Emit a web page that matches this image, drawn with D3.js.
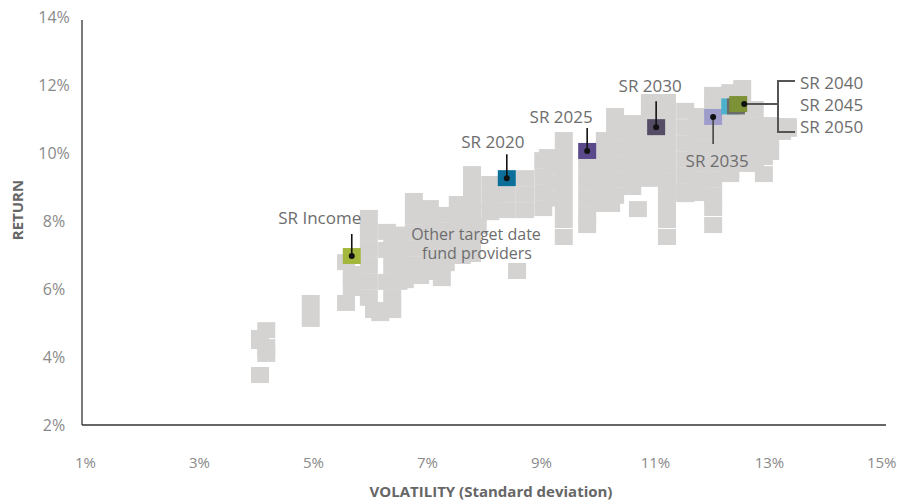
<!DOCTYPE html>
<html>
<head>
<meta charset="utf-8">
<script src="https://cdn.jsdelivr.net/npm/d3@7"></script>
<style>
  body { margin: 0; background: #fff; }
  text { font-family: "Open Sans", sans-serif; }
</style>
</head>
<body>
<div id="chart"></div>
<script>
var width = 897, height = 504;

// other target date fund providers (volatility %, return %)
var otherVol = [
  4.07, 4.07, 4.07, 4.18, 4.18, 4.18, 4.96, 4.96,
  5.58, 5.68, 5.68, 5.58, 5.98, 5.98, 5.98, 5.98, 5.98, 5.98, 6.07, 6.18,
  6.30, 6.39, 6.30, 6.39, 6.30, 6.39, 6.39,
  6.50, 6.50, 6.50, 6.50,
  6.77, 7.05, 7.33, 7.54, 7.79, 7.79, 6.77, 6.77, 6.77, 6.77, 7.05, 7.05, 7.05, 7.05,
  7.26, 7.33, 7.33, 7.33, 7.58, 7.58, 7.58, 7.61, 6.61, 6.88, 8.58,
  7.79, 7.79, 7.79, 7.79, 8.11, 8.11, 8.11, 7.89, 8.40, 8.40, 8.72, 8.72, 8.72,
  9.04, 9.04, 9.04, 9.04, 9.12, 9.20, 9.20, 9.20,
  9.40, 9.40, 9.40, 9.40, 9.40, 9.40, 9.40,
  9.81, 9.81, 9.81, 9.81, 9.81,
  10.12, 10.12, 10.12, 10.12, 10.12,
  10.30, 10.30, 10.30, 10.30, 10.30, 10.30, 10.23,
  10.60, 10.60, 10.60, 10.60, 10.60, 10.70,
  10.91, 10.91, 10.91, 10.91, 10.91, 10.91,
  11.21, 11.21, 11.21, 11.21, 11.21, 11.21, 11.21, 11.21, 11.21, 11.21,
  11.53, 11.53, 11.53, 11.53, 11.53, 11.53, 11.53,
  11.74, 11.74, 11.74, 11.74, 11.74, 11.74,
  12.02, 12.02, 12.02, 12.02, 12.02, 12.02, 12.02, 12.02, 12.02,
  12.32, 12.32, 12.32, 12.32, 12.32, 12.32,
  12.53, 12.53, 12.53, 12.53, 12.53, 12.53,
  12.75, 12.75, 12.75, 12.75, 12.75,
  12.91, 12.91, 12.91, 12.91,
  13.02, 13.02, 13.02,
  13.23, 13.23, 13.33, 13.33
];
var otherRet = [
  3.47, 4.56, 4.47, 4.79, 4.29, 4.09, 5.59, 5.12,
  6.79, 6.44, 6.03, 5.59, 8.09, 7.62, 7.15, 6.68, 6.21, 5.74, 5.38, 5.29,
  7.68, 7.59, 7.15, 6.68, 6.21, 5.74, 5.38,
  7.60, 7.15, 6.68, 6.21,
  8.59, 8.38, 8.18, 8.50, 9.38, 8.91, 8.12, 7.65, 7.18, 6.71, 7.91, 7.44, 6.97, 6.50,
  6.32, 7.71, 7.24, 6.76, 8.03, 7.56, 7.09, 6.97, 6.26, 6.38, 6.53,
  8.44, 7.97, 7.50, 7.03, 9.09, 8.62, 8.26, 7.85, 8.79, 8.32, 9.26, 8.79, 8.32,
  9.79, 9.32, 8.85, 8.38, 9.88, 9.60, 9.13, 8.66,
  10.38, 9.91, 9.44, 8.97, 8.50, 8.03, 7.53,
  9.59, 9.12, 8.65, 8.18, 7.88,
  10.38, 9.91, 9.44, 8.97, 8.50,
  11.09, 10.62, 10.15, 9.68, 9.21, 8.74, 8.50,
  10.88, 10.41, 9.94, 9.47, 9.00, 8.35,
  11.50, 11.03, 10.56, 10.09, 9.62, 9.24,
  11.50, 11.03, 10.56, 10.09, 9.62, 9.15, 8.82, 8.41, 8.03, 7.53,
  11.24, 10.76, 10.29, 9.82, 9.35, 8.88, 8.79,
  11.09, 10.62, 10.15, 9.68, 9.21, 8.82,
  11.71, 11.53, 10.62, 10.15, 9.68, 9.21, 8.74, 8.38, 7.88,
  11.79, 10.91, 10.44, 9.97, 9.50, 9.38,
  11.91, 11.44, 10.97, 10.50, 10.03, 9.68,
  11.29, 10.82, 10.35, 9.88, 9.68,
  10.82, 10.35, 9.88, 9.38,
  10.82, 10.35, 10.03,
  10.79, 10.62, 10.79, 10.71
];

// SmartRetirement funds, drawn in this order (2050 under 2045 under 2040)
var srNames = ["SR Income", "SR 2020", "SR 2025", "SR 2030", "SR 2035", "SR 2050", "SR 2045", "SR 2040"];
var srVol = [5.68, 8.40, 9.81, 11.02, 12.02, 12.32, 12.42, 12.46];
var srRet = [6.97, 9.26, 10.06, 10.76, 11.06, 11.37, 11.37, 11.44];
var srColors = ["#a4b73d", "#0b6f9a", "#5b4a8b", "#544d65", "#9e9ccb", "#4cb1cc", "#6b6b6b", "#7d9136"];

var groupNames = ["SR 2040", "SR 2045", "SR 2050"];

var xTicks = [1, 3, 5, 7, 9, 11, 13, 15];
var yTicks = [2, 4, 6, 8, 10, 12, 14];

var x = d3.scaleLinear().domain([1, 15]).range([85, 883]);
var y = d3.scaleLinear().domain([2, 14]).range([425, 17]);

var svg = d3.select("#chart")
    .append("svg")
    .attr("width", width)
    .attr("height", height);

var sqW = 18, sqH = 16;
var labelColor = "#6d6d6d";

// gray squares
svg.append("g")
    .selectAll("rect")
    .data(otherVol)
    .enter()
    .append("rect")
    .attr("x", function (d) { return x(d) - sqW / 2; })
    .attr("y", function (d, i) { return y(otherRet[i]) - sqH / 2; })
    .attr("width", sqW)
    .attr("height", sqH)
    .style("fill", "#d4d3d2");

// axes
var yAxis = d3.axisLeft(y).tickValues(yTicks).tickSize(0).tickFormat(function (d) { return d + "%"; });
var gy = svg.append("g").attr("transform", "translate(82,0)").call(yAxis);
gy.select(".domain").remove();
gy.selectAll("text")
    .attr("x", -28)
    .attr("text-anchor", "middle")
    .style("font-size", "16px")
    .style("fill", "#8a8a8a");

var xAxis = d3.axisBottom(x).tickValues(xTicks).tickSize(0).tickFormat(function (d) { return d + "%"; });
var gx = svg.append("g").attr("transform", "translate(0,425)").call(xAxis);
gx.select(".domain").remove();
gx.selectAll("text")
    .attr("y", 43)
    .attr("dy", 0)
    .style("font-size", "15px")
    .style("fill", "#8a8a8a");
// last label would run off the right edge
gx.selectAll("text")
    .filter(function (d) { return d === 15; })
    .attr("x", 13)
    .attr("text-anchor", "end");

svg.append("line")
    .attr("x1", 82).attr("x2", 82)
    .attr("y1", y(14) + 3).attr("y2", y(2))
    .style("stroke", "#333").style("stroke-width", 1.3);
svg.append("line")
    .attr("x1", 82).attr("x2", 886)
    .attr("y1", y(2)).attr("y2", y(2))
    .style("stroke", "#333").style("stroke-width", 1.3);

svg.append("text")
    .attr("transform", "translate(23,210) rotate(-90)")
    .attr("text-anchor", "middle")
    .style("font-size", "15px")
    .style("font-weight", "bold")
    .style("fill", "#666")
    .text("RETURN");

svg.append("text")
    .attr("x", 491)
    .attr("y", 497)
    .attr("text-anchor", "middle")
    .style("font-size", "15px")
    .style("font-weight", "bold")
    .style("fill", "#666")
    .text("VOLATILITY (Standard deviation)");

// provider label
svg.append("text")
    .attr("x", 476).attr("y", 240)
    .attr("text-anchor", "middle")
    .style("font-size", "16px")
    .style("fill", labelColor)
    .text("Other target date");
svg.append("text")
    .attr("x", 477).attr("y", 259)
    .attr("text-anchor", "middle")
    .style("font-size", "16px")
    .style("fill", labelColor)
    .text("fund providers");

// SR squares
svg.append("g")
    .selectAll("rect")
    .data(srNames)
    .enter()
    .append("rect")
    .attr("x", function (d, i) { return x(srVol[i]) - sqW / 2; })
    .attr("y", function (d, i) { return y(srRet[i]) - sqH / 2; })
    .attr("width", sqW)
    .attr("height", sqH)
    .style("fill", function (d, i) { return srColors[i]; });

// callouts for the single funds: label offset and leader end
var callouts = [
  { i: 0, dx: -32, dy: -32, lead: -22 },
  { i: 1, dx: -14, dy: -30, lead: -24 },
  { i: 2, dx: -26, dy: -28, lead: -23 },
  { i: 3, dx: -6, dy: -35, lead: -26 },
  { i: 4, dx: 4, dy: 50, lead: 27 }
];

callouts.forEach(function (c) {
  var px = x(srVol[c.i]), py = y(srRet[c.i]);
  svg.append("line")
      .attr("x1", px).attr("x2", px)
      .attr("y1", py).attr("y2", py + c.lead)
      .style("stroke", c.lead > 0 ? "#444" : "#111")
      .style("stroke-width", 1.6);
  svg.append("circle")
      .attr("cx", px).attr("cy", py).attr("r", 3)
      .style("fill", "#111");
  svg.append("text")
      .attr("x", px + c.dx).attr("y", py + c.dy)
      .attr("text-anchor", "middle")
      .style("font-size", "17px")
      .style("fill", labelColor)
      .text(srNames[c.i]);
});

// bracket for 2040 / 2045 / 2050
var gx0 = x(srVol[7]) + 6, gy0 = y(srRet[7]);
var bx = 778, bTop = 81, bBot = 132;
svg.append("path")
    .attr("d", "M" + gx0 + "," + gy0 + "H" + bx +
               "M" + 795 + "," + bTop + "H" + bx + "V" + bBot + "H" + 795)
    .style("fill", "none")
    .style("stroke", "#555")
    .style("stroke-width", 2);
svg.append("circle")
    .attr("cx", gx0).attr("cy", gy0).attr("r", 3)
    .style("fill", "#111");

svg.append("g")
    .selectAll("text")
    .data(groupNames)
    .enter()
    .append("text")
    .attr("x", 800)
    .attr("y", function (d, i) { return 89 + i * 22; })
    .style("font-size", "17px")
    .style("fill", labelColor)
    .text(function (d) { return d; });
</script>
</body>
</html>
